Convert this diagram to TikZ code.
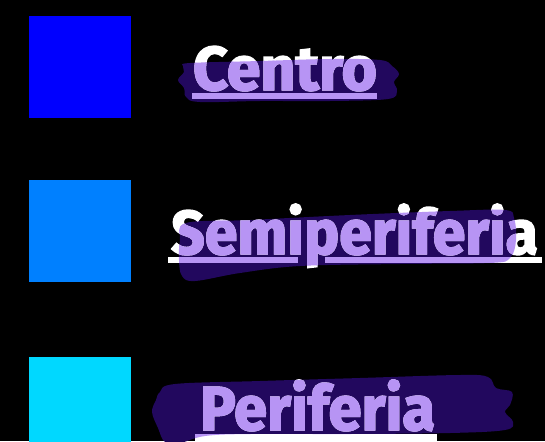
\documentclass[tikz,border=0pt]{standalone}
\usepackage{fontspec}
\setmainfont{Fira Sans}
\newfontfamily\wordfont{Fira Sans}[BoldFeatures={FakeBold=2.2}]
\usepackage{graphicx}
\definecolor{bgc}{HTML}{000000}
\definecolor{blueA}{HTML}{0000FF}
\definecolor{blueB}{HTML}{0080FF}
\definecolor{blueC}{HTML}{00D8FF}
\definecolor{brushc}{HTML}{22085E}
\definecolor{lav}{HTML}{B794F4}
\tikzset{
  sq/.style={fill=#1, draw=none, minimum size=102pt, inner sep=0pt, outer sep=0pt, anchor=north west},
  word/.style={inner sep=0pt, outer sep=0pt, anchor=base west, font=\wordfont\bfseries\fontsize{62}{62}\selectfont},
  uline/.style={fill=#1, draw=none}
}
\begin{document}
\begin{tikzpicture}[x=1pt,y=-1pt]
\useasboundingbox (0,0) rectangle (545,441);
\clip (0,0) rectangle (545,441);
\fill[bgc] (0,0) rectangle (545,441);
% squares
\node[sq=blueA] (sq1) at (29,16) {};
\node[sq=blueB] (sq2) at (29,180) {};
\node[sq=blueC] (sq3) at (29,357) {};
% brush paths
\path[save path=\pA] plot[smooth cycle, tension=0.6] coordinates {(190,63) (260,61) (330,59) (380,60) (392,66) (399,74) (394,82) (397,91) (388,99) (330,101) (260,101) (200,102) (186,97) (184,88) (178,80) (184,72) (183,66)};
\path[save path=\pB] plot[smooth cycle, tension=0.6] coordinates {(186,223) (250,220) (350,215) (450,211) (505,210) (514,218) (516,240) (510,258) (490,263) (400,264) (300,266) (240,273) (195,281) (182,276) (179,260) (180,240)};
\path[save path=\pC] plot[smooth cycle, tension=0.6] coordinates {(160,392) (175,384) (260,381) (360,378) (460,375) (488,377) (496,388) (512,392) (510,405) (505,412) (513,422) (505,430) (450,433) (350,434) (250,434) (205,436) (180,443) (165,442) (158,428) (152,412) (156,400)};
\fill[brushc, use path=\pA];
\fill[brushc, use path=\pB];
\fill[brushc, use path=\pC];
% white words and underlines
\node[word, text=white] (w1) at (193,90) {\resizebox{184pt}{\height}{Centro}};
\node[word, text=white] (w2) at (171,254) {\resizebox{367pt}{\height}{Semiperiferia}};
\node[word, text=white] (w3) at (200,430) {\resizebox{235pt}{\height}{Periferia}};
\fill[uline=white] (192,93) rectangle (377,99);
\fill[uline=white] (168,257) rectangle (298,263);
\fill[uline=white] (325,257) rectangle (542,263);
\fill[uline=white] (195,434) rectangle (437,441);
% lavender parts inside the brush strokes
\begin{scope}
\clip[use path=\pA];
\node[word, text=lav] (l1) at (193,90) {\resizebox{184pt}{\height}{Centro}};
\fill[uline=lav] (192,93) rectangle (377,99);
\end{scope}
\begin{scope}
\clip[use path=\pB];
\node[word, text=lav] (l2) at (171,254) {\resizebox{367pt}{\height}{Semiperiferia}};
\fill[uline=lav] (168,257) rectangle (298,263);
\fill[uline=lav] (325,257) rectangle (542,263);
\end{scope}
\begin{scope}
\clip[use path=\pC];
\node[word, text=lav] (l3) at (200,430) {\resizebox{235pt}{\height}{Periferia}};
\fill[uline=lav] (195,434) rectangle (437,441);
\end{scope}
\end{tikzpicture}
\end{document}
